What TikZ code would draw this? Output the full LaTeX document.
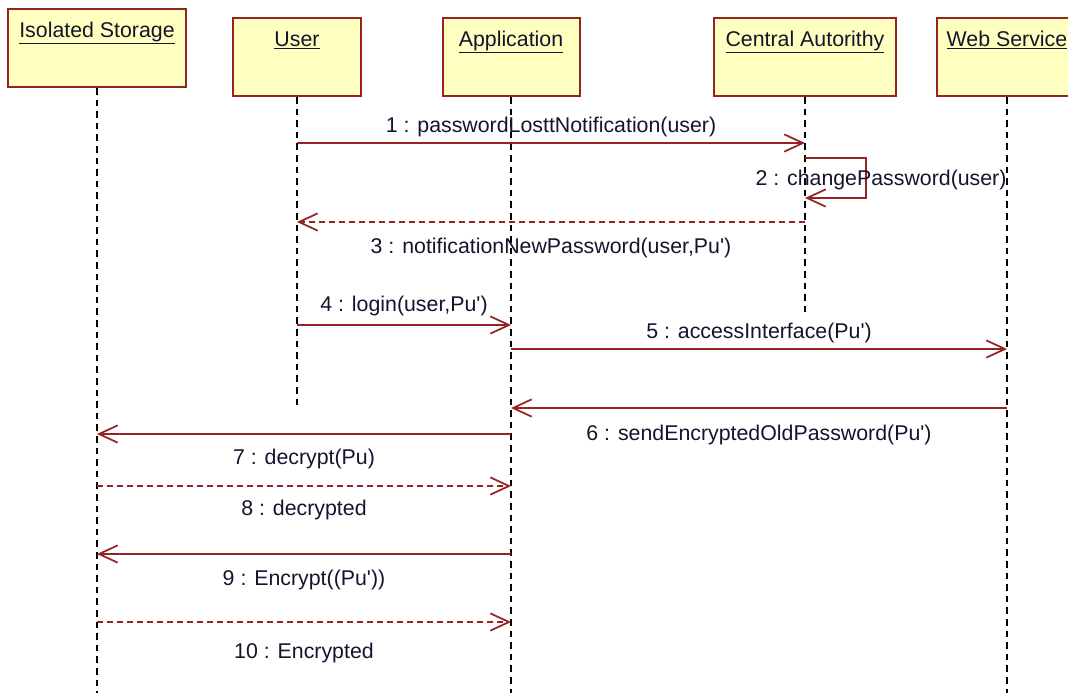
\documentclass[tikz,border=0pt]{standalone}
\usepackage{fontspec}
\setmainfont{Liberation Sans}
\usetikzlibrary{arrows.meta}
\definecolor{umlred}{RGB}{150,35,35}
\definecolor{umlfill}{RGB}{255,255,192}
\definecolor{umltext}{RGB}{20,20,45}

\begin{document}
\begin{tikzpicture}[x=0.75pt, y=-0.75pt,
    font=\fontsize{16}{19}\selectfont, text=umltext,
    participant/.style={draw=umlred, fill=umlfill, line width=1.5pt, anchor=north,
        inner xsep=0pt, inner ysep=0pt, text height=21pt, text depth=37.5pt},
    lifeline/.style={line width=1.2pt, dash pattern=on 5pt off 3.7pt},
    msg/.style={draw=umlred, line width=1.3pt, -{Straight Barb[length=14pt,width=13pt]}},
    reply/.style={msg, dash pattern=on 4.5pt off 3pt},
    lbl/.style={text height=12pt, text depth=4pt}]
    \clip (0,0) rectangle (1068,693);

    % Nodes for the participants
    \node[participant, minimum width=133.5pt] (storage) at (97,8) {\underline{Isolated Storage}};
    \node[participant, minimum width=96pt] (user) at (297,17) {\underline{User}};
    \node[participant, minimum width=102.75pt] (app) at (511,17) {\underline{Application}};
    \node[participant, minimum width=136.5pt] (ca) at (805,17) {\underline{Central Autorithy}};
    \node[participant, minimum width=105pt] (web) at (1007,17) {\underline{Web Service}};

    % Lifelines
    \draw[lifeline] (storage.south) -- (storage.south |- 0,693);
    \draw[lifeline] (user.south) -- (user.south |- 0,406);
    \draw[lifeline] (app.south) -- (app.south |- 0,693);
    \draw[lifeline] (ca.south) -- (ca.south |- 0,313);
    \draw[lifeline] (web.south) -- (web.south |- 0,693);

    % Messages
    \draw[msg] (user |- 0,143) -- node[above, lbl] {1 : passwordLosttNotification(user)} (ca |- 0,143);
    \draw[msg] (ca |- 0,158) -- ++(61,0) -- ++(0,40) -- (ca |- 0,198);
    \node[lbl] (change) at (881,180) {2 : changePassword(user)};
    \draw[reply] (ca |- 0,222) -- node[below=7.4pt, lbl] {3 : notificationNewPassword(user,Pu\textquotesingle)} (user |- 0,222);
    \draw[msg] (user |- 0,325) -- node[above=2pt, lbl] {4 : login(user,Pu\textquotesingle)} (app |- 0,325);
    \draw[msg] (app |- 0,349) -- node[above, lbl] {5 : accessInterface(Pu\textquotesingle)} (web |- 0,349);
    \draw[msg] (web |- 0,408) -- node[below=8.4pt, lbl] {6 : sendEncryptedOldPassword(Pu\textquotesingle)} (app |- 0,408);
    \draw[msg] (app |- 0,434) -- node[below=7pt, lbl] {7 : decrypt(Pu)} (storage |- 0,434);
    \draw[reply] (storage |- 0,486) -- node[below=6pt, lbl] {8 : decrypted} (app |- 0,486);
    \draw[msg] (app |- 0,554) -- node[below=7.6pt, lbl] {9 : Encrypt((Pu\textquotesingle))} (storage |- 0,554);
    \draw[reply] (storage |- 0,622) -- node[below=11.4pt, lbl] {10 : Encrypted} (app |- 0,622);

\end{tikzpicture}
\end{document}
